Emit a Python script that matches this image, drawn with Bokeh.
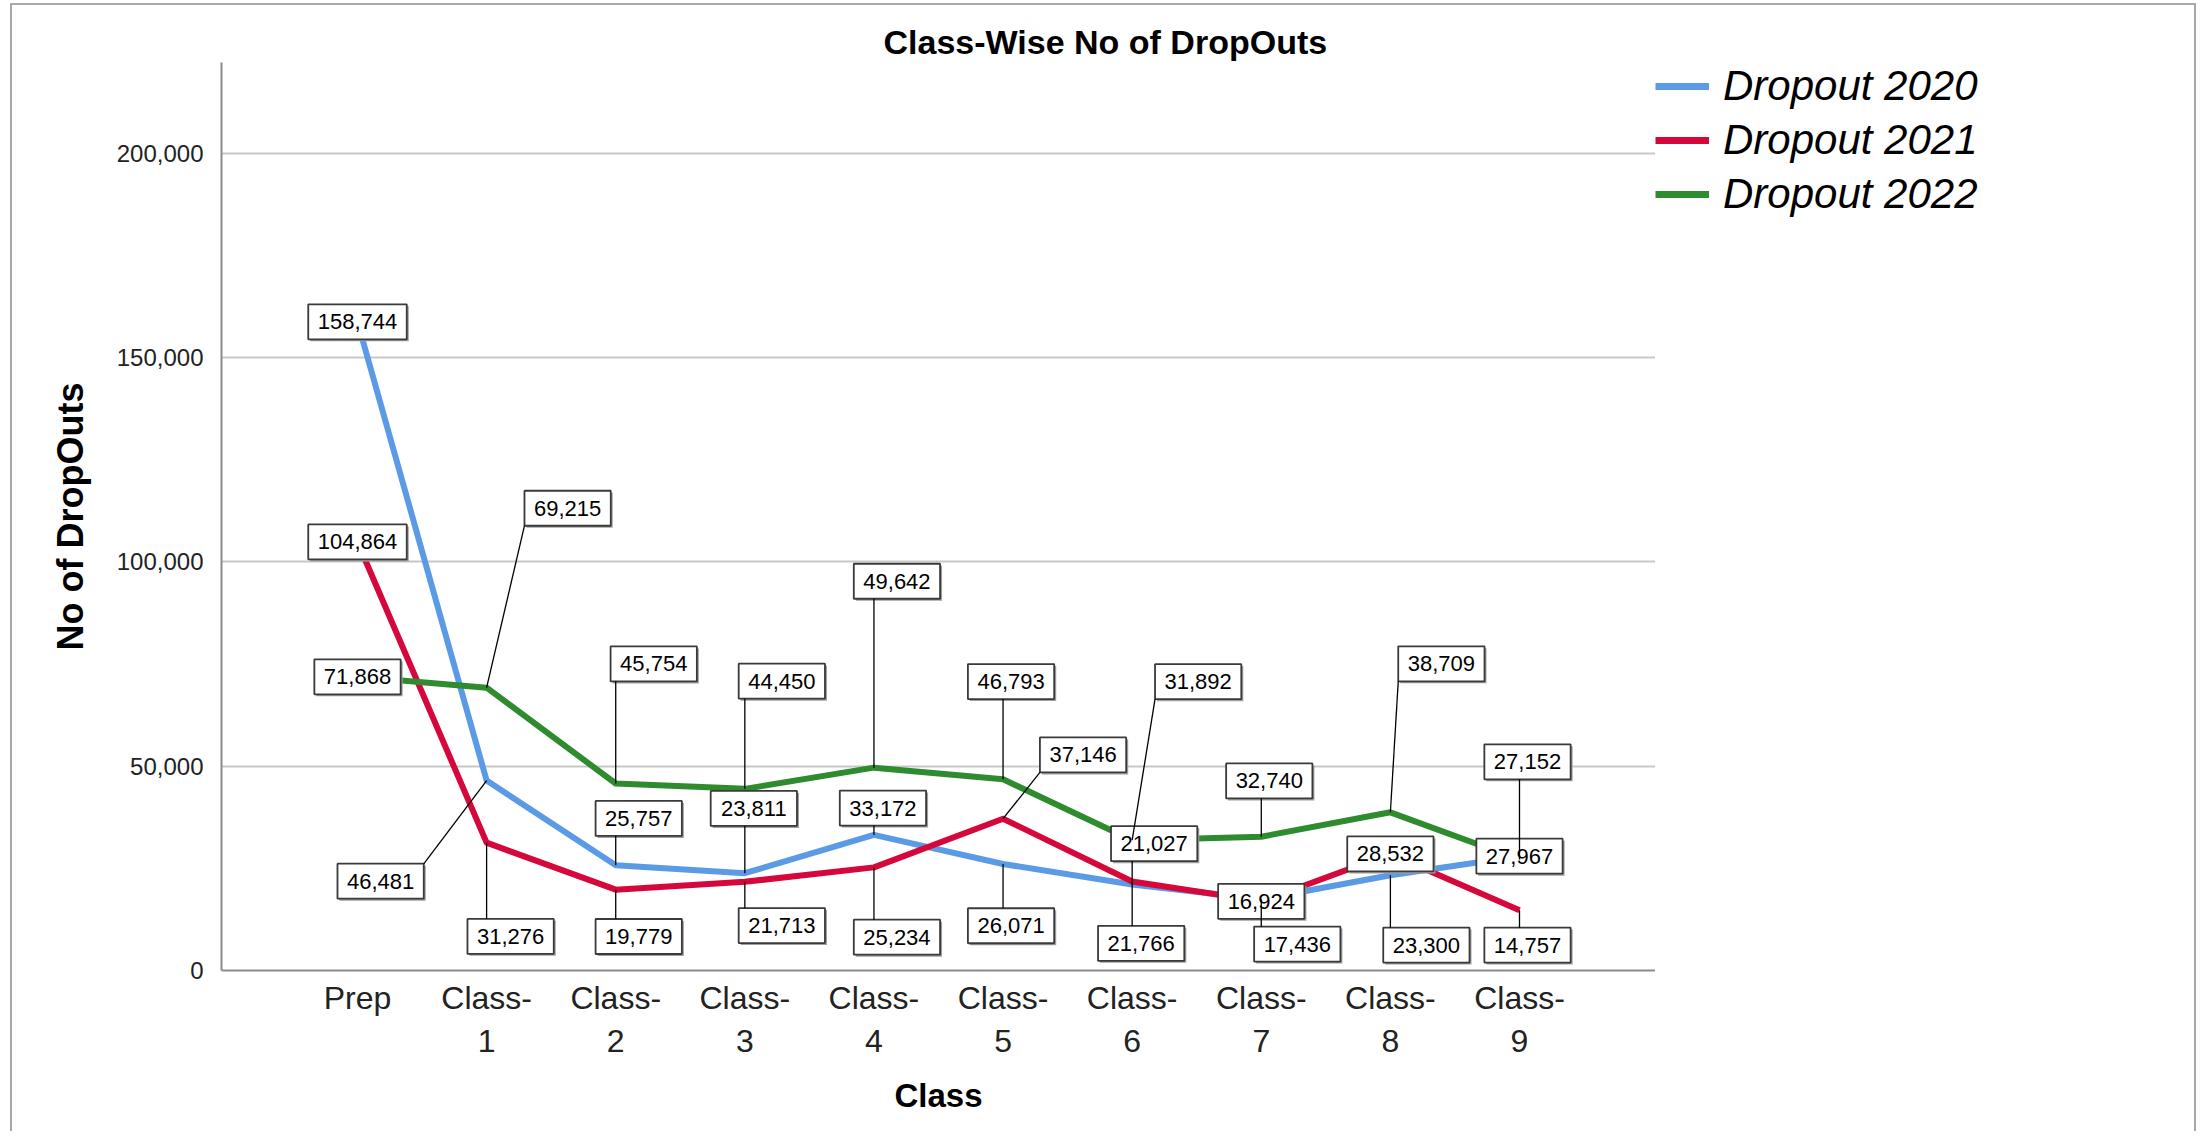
from bokeh.plotting import figure
from bokeh.layouts import row
from bokeh.models import Range1d, FixedTicker, NumeralTickFormatter, Legend, LegendItem
from bokeh.embed import file_html
from bokeh.resources import INLINE
from bokeh.core.properties import value

# ---------------- data ----------------
classes = ["Prep", "Class-1", "Class-2", "Class-3", "Class-4",
           "Class-5", "Class-6", "Class-7", "Class-8", "Class-9"]
tick_labels = ["Prep", "Class-\n1", "Class-\n2", "Class-\n3", "Class-\n4",
               "Class-\n5", "Class-\n6", "Class-\n7", "Class-\n8", "Class-\n9"]
dropout_2020 = [158744, 46481, 25757, 23811, 33172, 26071, 21027, 17436, 23300, 27967]
dropout_2021 = [104864, 31276, 19779, 21713, 25234, 37146, 21766, 16924, 28532, 14757]
dropout_2022 = [71868, 69215, 45754, 44450, 49642, 46793, 31892, 32740, 38709, 27152]
series_names = ["Dropout 2020", "Dropout 2021", "Dropout 2022"]
y_ticks = [0, 50000, 100000, 150000, 200000]

# label box offsets from their point, in screen pixels (dx right, dy up)
off_2020 = [(0, 0), (-106, -101), (23, 47), (9, 65), (9, 27), (8, -62), (22, 41), (36, -45), (36, -70), (0, 0)]
off_2021 = [(0, 0), (24, -94), (23, -47), (37, -44), (23, -70), (80, 64), (9, -62), (0, 0), (0, 0), (8, -35)]
off_2022 = [(0, 0), (81, 180), (38, 120), (37, 108), (23, 187), (8, 98), (66, 159), (8, 56), (51, 149), (8, 98)]

colors = ["#5B9BE6", "#D6083B", "#2E8B2E"]
FONT = "Liberation Sans"
BORDER = "2px solid #a8a8a8"

# ---------------- geometry ----------------
FW, FH = 1434, 911
XS, XE = -1.0534, 10.0534
YE = 222195
px_x = FW / (XE - XS)
px_y = FH / YE
H = 1128
ML, MR, MT = 209, 2, 54
MB = H - MT - FH

p = figure(width=ML + FW + MR, height=H, output_backend="svg", toolbar_location=None,
           x_range=Range1d(XS, XE), y_range=Range1d(0, YE),
           min_border_left=ML, min_border_right=MR, min_border_top=MT, min_border_bottom=MB,
           background_fill_color="white", border_fill_color="white")
p.outline_line_color = None
p.styles = {"border-top": BORDER, "border-left": BORDER, "margin-left": "10px", "margin-top": "3px"}

# title
p.title.text = "Class-Wise No of DropOuts"
p.title.text_font = FONT
p.title.text_font_style = "bold"
p.title.text_font_size = "34px"
p.title.text_color = "black"
p.title.align = "left"
p.title.offset = 662
p.title.standoff = 4

# axes
p.xaxis.ticker = FixedTicker(ticks=list(range(len(classes))))
p.xaxis.major_label_overrides = {i: t for i, t in enumerate(tick_labels)}
p.yaxis.ticker = FixedTicker(ticks=y_ticks)
p.yaxis.formatter = NumeralTickFormatter(format="0,0")
for ax in (p.xaxis[0], p.yaxis[0]):
    ax.axis_line_color = "#8c8c8c"
    ax.axis_line_width = 2
    ax.major_tick_line_color = None
    ax.minor_tick_line_color = None
    ax.major_label_text_font = FONT
    ax.major_label_text_color = "#222222"
    ax.axis_label_text_font = FONT
    ax.axis_label_text_font_style = "bold"
    ax.axis_label_text_color = "black"
    ax.axis_label_text_font_size = "33px"
p.xaxis.major_label_text_font_size = "32px"
p.xaxis.major_label_standoff = 3
p.xaxis.axis_label = "Class"
p.xaxis.axis_label_standoff = 15
p.yaxis.major_label_text_font_size = "24px"
p.yaxis.major_label_standoff = 12
p.yaxis.axis_label = "No of DropOuts"
p.yaxis.axis_label_text_font_size = "36px"
p.yaxis.axis_label_standoff = 23

p.xgrid.visible = False
p.ygrid.ticker = FixedTicker(ticks=y_ticks[1:])
p.ygrid.grid_line_color = "#c8c8c8"
p.ygrid.grid_line_width = 2

xs = list(range(len(classes)))
all_series = [dropout_2020, dropout_2021, dropout_2022]
all_offsets = [off_2020, off_2021, off_2022]

for vals, col in zip(all_series, colors):
    p.line(xs, vals, line_color=col, line_width=6, line_join="round")

# ---------------- data labels ----------------
FS = 22
BOX_H = 35
PAD = 9.5


def box_width(txt):
    w = 0.0
    for ch in txt:
        w += 0.278 if ch == "," else 0.556
    return w * FS + 2 * PAD


bx, by, bw, sx, sy = [], [], [], [], []
tx, ty, tt = [], [], []
lx0, ly0, lx1, ly1 = [], [], [], []
for vals, offs in zip(all_series, all_offsets):
    for i, (v, (dx, dy)) in enumerate(zip(vals, offs)):
        txt = f"{v:,}"
        w = box_width(txt)
        cx = xs[i] + dx / px_x
        cy = v + dy / px_y
        bx.append(cx); by.append(cy); bw.append(w)
        sx.append(cx + 2 / px_x); sy.append(cy - 2 / px_y)
        tx.append(cx); ty.append(cy); tt.append(txt)
        nx = min(max(0, dx - w / 2), dx + w / 2)
        ny = min(max(0, dy - BOX_H / 2), dy + BOX_H / 2)
        if abs(nx) > 0.5 or abs(ny) > 0.5:
            lx0.append(xs[i]); ly0.append(v)
            lx1.append(xs[i] + nx / px_x); ly1.append(v + ny / px_y)

p.rect(x=sx, y=sy, width=bw, height=BOX_H, width_units="screen", height_units="screen",
       fill_color="#a0a0a0", line_color=None)
p.rect(x=bx, y=by, width=bw, height=BOX_H, width_units="screen", height_units="screen",
       fill_color="white", line_color="#3a3a3a", line_width=1.8)
p.segment(x0=lx0, y0=ly0, x1=lx1, y1=ly1, line_color="black", line_width=1.3)
p.text(x=tx, y=ty, text=tt, text_align="center", text_baseline="middle",
       text_font=value(FONT), text_font_size="22px", text_color="black")

# ---------------- legend (own panel to the right) ----------------
LW = 2198 - (12 + ML + FW + MR)
pl = figure(width=LW, height=H, output_backend="svg", toolbar_location=None,
            x_range=Range1d(-100, -99), y_range=Range1d(0, 1),
            min_border_left=0, min_border_right=0, min_border_top=MT + 3, min_border_bottom=0,
            background_fill_color="white", border_fill_color="white")
pl.axis.visible = False
pl.grid.visible = False
pl.outline_line_color = None
pl.styles = {"border-top": BORDER, "border-right": BORDER, "margin-top": "3px"}
# legend keys: the same series, kept outside this panel's visible range
leg_renderers = [pl.line(xs, vals, line_color=c, line_width=7) for vals, c in zip(all_series, colors)]
legend = Legend(items=[LegendItem(label=n, renderers=[r]) for n, r in zip(series_names, leg_renderers)],
                location="top_left", glyph_width=54, glyph_height=30, label_height=30,
                label_text_font=FONT, label_text_font_style="italic", label_text_font_size="42px",
                label_text_color="black", label_standoff=14, spacing=6, padding=2, margin=0,
                border_line_color=None, background_fill_alpha=0)
pl.add_layout(legend, "center")

layout = row(p, pl, spacing=0)
open("out.html", "w").write(file_html(layout, INLINE))
